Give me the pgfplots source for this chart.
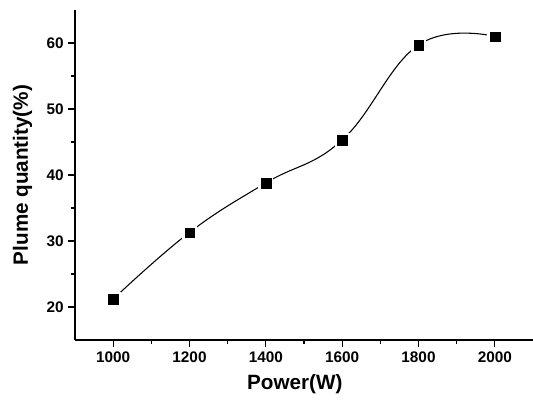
\documentclass[border=0pt]{standalone}
\usepackage{pgfplots}
\pgfplotsset{compat=1.18}
\usepackage{fontspec}
\setmainfont{Liberation Sans}
\begin{document}
\begin{tikzpicture}
\useasboundingbox (0,0) rectangle (399.75pt,302.25pt);
\begin{axis}[
  at={(56.25pt,47.25pt)}, anchor=south west,
  scale only axis, width=343.5pt, height=247.5pt,
  axis lines=left, axis line style={-, line width=0.9pt},
  xmin=900, xmax=2100, ymin=15, ymax=65,
  xtick={1000,1200,...,2000}, ytick={20,30,...,60},
  minor tick num=1,
  tick align=outside,
  major tick length=5pt, minor tick length=3pt,
  tick style={line width=0.8pt, black},
  /pgf/number format/assume math mode=true,
  /pgf/number format/1000 sep={},
  ticklabel style={font=\fontsize{11.5}{13}\selectfont\bfseries},
  xlabel={Power(W)}, ylabel={Plume quantity(\%)},
  label style={font=\fontsize{15.5}{18}\selectfont\bfseries},
  xlabel style={at={(axis description cs:0.48,0)}, anchor=north, yshift=-22pt},
  ylabel style={yshift=4pt},
  clip=false,
]
\addplot[black, line width=0.8pt, smooth, tension=0.7, no marks] coordinates {
(1000,21.2) (1200,31.3) (1400,38.8) (1600,45.3) (1800,59.7) (2000,61.0)};
\addplot[only marks, mark=square*, mark size=3.6pt,
  mark options={fill=white, draw=white, line width=4pt}] coordinates {
(1000,21.2) (1200,31.3) (1400,38.8) (1600,45.3) (1800,59.7) (2000,61.0)};
\addplot[only marks, mark=square*, mark size=3.6pt,
  mark options={fill=black, draw=black, line width=0.1pt}] coordinates {
(1000,21.2) (1200,31.3) (1400,38.8) (1600,45.3) (1800,59.7) (2000,61.0)};
\end{axis}
\end{tikzpicture}
\end{document}
